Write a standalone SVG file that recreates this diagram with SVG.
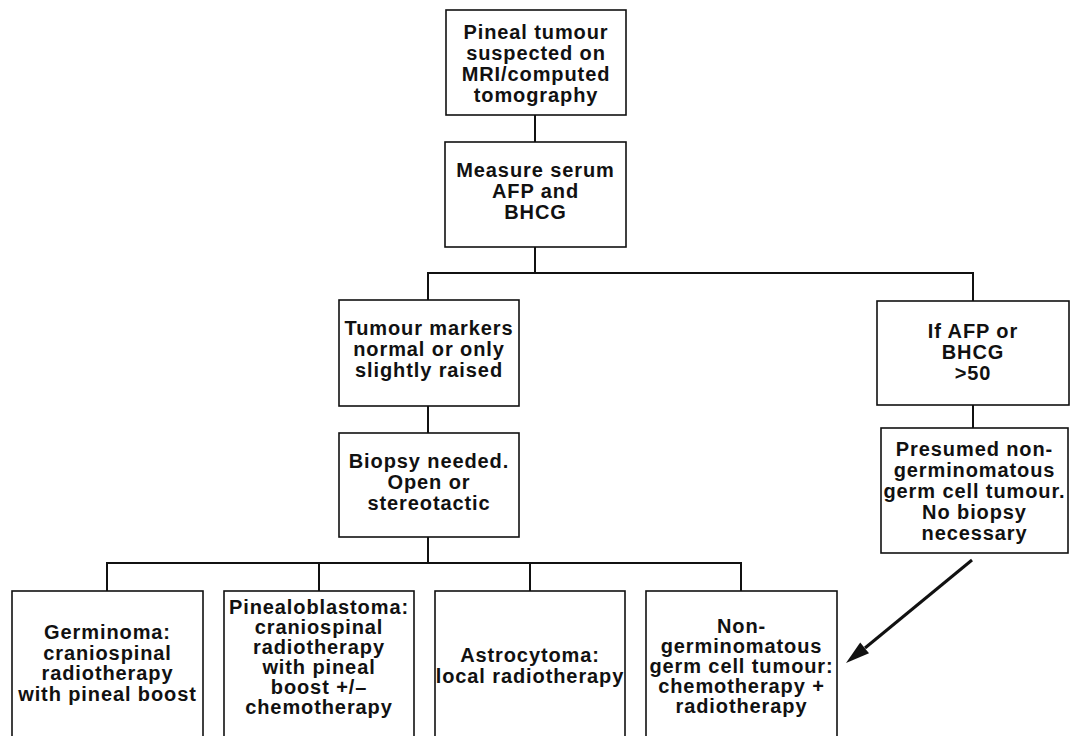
<svg xmlns="http://www.w3.org/2000/svg" width="1070" height="736" viewBox="0 0 1070 736">
<defs>
<style>
.box{fill:#fff;stroke:#111;stroke-width:1.6}
.ln{fill:none;stroke:#111;stroke-width:2}
.t{font-family:"Liberation Sans",Arial,sans-serif;font-size:20px;font-weight:bold;fill:#111;text-anchor:middle;letter-spacing:0.9px}
</style>
</defs>
<rect width="1070" height="736" fill="#fff"/>
<g id="connectors">
<path class="ln" d="M535,115 V142"/>
<path class="ln" d="M535,247 V273"/>
<path class="ln" d="M428,300 V273 H973 V301"/>
<path class="ln" d="M428,406 V433"/>
<path class="ln" d="M973,405 V428"/>
<path class="ln" d="M428,537 V563"/>
<path class="ln" d="M107,591 V563 H741 V591"/>
<path class="ln" d="M319,563 V591"/>
<path class="ln" d="M530,563 V591"/>
<path d="M972,560 L865,648" fill="none" stroke="#111" stroke-width="3"/>
<path d="M846,663 L869,653.2 L860.2,642.4 Z" fill="#111"/>
</g>
<g id="n1"><rect class="box" x="446" y="10" width="180" height="105"/>
<text class="t" x="536" y="38.5">Pineal tumour</text><text class="t" x="536" y="59.5">suspected on</text><text class="t" x="536" y="80.5">MRI/computed</text><text class="t" x="536" y="101.5">tomography</text></g>
<g id="n2"><rect class="box" x="445" y="142" width="181" height="105"/>
<text class="t" x="535.5" y="177">Measure serum</text><text class="t" x="535.5" y="198">AFP and</text><text class="t" x="535.5" y="219">BHCG</text></g>
<g id="n3"><rect class="box" x="339" y="300" width="180" height="106"/>
<text class="t" x="429" y="335">Tumour markers</text><text class="t" x="429" y="356">normal or only</text><text class="t" x="429" y="377">slightly raised</text></g>
<g id="n4"><rect class="box" x="877" y="301" width="192" height="104"/>
<text class="t" x="973" y="338">If AFP or</text><text class="t" x="973" y="359">BHCG</text><text class="t" x="973" y="380">&gt;50</text></g>
<g id="n5"><rect class="box" x="339" y="433" width="180" height="104"/>
<text class="t" x="429" y="468">Biopsy needed.</text><text class="t" x="429" y="489">Open or</text><text class="t" x="429" y="510">stereotactic</text></g>
<g id="n6"><rect class="box" x="881" y="428" width="187" height="125"/>
<text class="t" x="974.5" y="456">Presumed non-</text><text class="t" x="974.5" y="477">germinomatous</text><text class="t" x="974.5" y="498">germ cell tumour.</text><text class="t" x="974.5" y="519">No biopsy</text><text class="t" x="974.5" y="540">necessary</text></g>
<g id="n7"><rect class="box" x="12" y="591" width="191" height="160"/>
<text class="t" x="107.5" y="639">Germinoma:</text><text class="t" x="107.5" y="659.5">craniospinal</text><text class="t" x="107.5" y="680">radiotherapy</text><text class="t" x="107.5" y="700.5">with pineal boost</text></g>
<g id="n8"><rect class="box" x="224" y="591" width="190" height="160"/>
<text class="t" x="319" y="614">Pinealoblastoma:</text><text class="t" x="319" y="634">craniospinal</text><text class="t" x="319" y="654">radiotherapy</text><text class="t" x="319" y="674">with pineal</text><text class="t" x="319" y="694">boost +/–</text><text class="t" x="319" y="714">chemotherapy</text></g>
<g id="n9"><rect class="box" x="435" y="591" width="190" height="160"/>
<text class="t" x="530" y="662">Astrocytoma:</text><text class="t" x="530" y="683">local radiotherapy</text></g>
<g id="n10"><rect class="box" x="646" y="591" width="191" height="160"/>
<text class="t" x="741.5" y="633">Non-</text><text class="t" x="741.5" y="653">germinomatous</text><text class="t" x="741.5" y="673">germ cell tumour:</text><text class="t" x="741.5" y="693">chemotherapy +</text><text class="t" x="741.5" y="713">radiotherapy</text></g>
</svg>
